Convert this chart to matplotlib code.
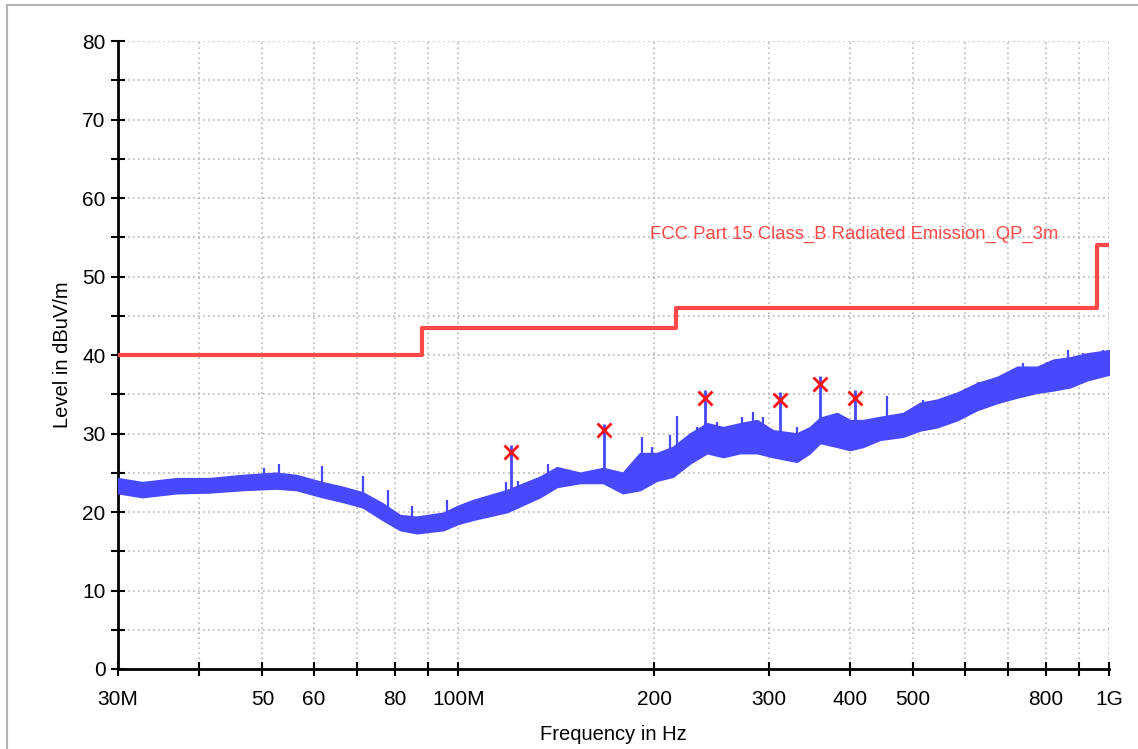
import numpy as np
import matplotlib
matplotlib.use("Agg")
import matplotlib.pyplot as plt
from matplotlib.patches import Rectangle
from matplotlib.ticker import FixedLocator, FixedFormatter, NullFormatter

# ---------------- data (MHz / dBuV/m) ----------------
env_freq = [30, 32.7, 36.9, 41.4, 46.5, 52.5, 56.4, 61.8, 66.4, 71.3, 76.5, 81.4,
            86.3, 94.9, 100, 105.2, 118.9, 133.6, 141.8, 153.9, 167, 179, 190.2,
            202, 213.8, 227.1, 241.2, 255.3, 271.1, 287.9, 304.6, 331.4, 347,
            359.8, 382.1, 400, 418.8, 444.8, 482.6, 512.5, 544.2, 584.3, 627.1,
            673.4, 722.8, 775.9, 821, 871.9, 925.9, 1000]
env_low = [22.4, 21.9, 22.4, 22.5, 22.8, 23.0, 22.8, 21.9, 21.3, 20.6, 19.0, 17.7,
           17.3, 17.7, 18.5, 19.0, 20.0, 21.9, 23.2, 23.7, 23.7, 22.4, 22.8,
           24.0, 24.5, 26.2, 27.5, 27.0, 27.5, 27.5, 27.0, 26.4, 27.5,
           28.8, 28.3, 27.9, 28.3, 29.2, 29.6, 30.4, 30.8, 31.7, 33.0,
           33.9, 34.6, 35.2, 35.5, 35.9, 36.8, 37.5]
env_high = [24.3, 23.8, 24.3, 24.3, 24.7, 25.0, 24.7, 23.8, 23.2, 22.5, 21.1, 19.6,
            19.4, 19.9, 20.8, 21.5, 22.8, 24.5, 25.7, 25.0, 25.6, 25.0, 27.5,
            27.5, 28.3, 30.0, 31.3, 30.8, 31.3, 31.7, 30.4, 30.0, 30.8,
            32.0, 32.6, 31.7, 31.7, 32.1, 32.6, 33.9, 34.3, 35.2, 36.4,
            37.2, 38.5, 38.5, 39.4, 39.7, 40.2, 40.6]

spike_freq = [50.3, 53.1, 61.8, 71.3, 78.0, 84.8, 96.2, 118.2, 123.6, 137.4,
              191.6, 198.5, 211.5, 216.9, 232.8, 249.9, 273.0, 283.9, 294.0,
              331.4, 456.0, 518.0, 554.0, 629.0, 697.0, 738.0, 803.0, 866.0,
              912.0, 980.0]
spike_top = [25.6, 26.1, 25.9, 24.6, 22.8, 20.8, 21.5, 23.8, 24.0, 26.1,
             29.6, 28.3, 29.8, 32.2, 30.8, 31.5, 32.1, 32.7, 32.1,
             30.8, 34.8, 34.3, 34.5, 36.6, 37.8, 39.0, 39.1, 40.6,
             40.2, 40.6]

peak_freq = [120.5, 167.5, 239.5, 312.3, 359.8, 407.0]
peak_trace = [28.5, 31.2, 35.5, 35.3, 37.3, 35.5]
peak_qp = [27.6, 30.4, 34.5, 34.3, 36.3, 34.5]

limit_freq = [30, 88, 216, 960, 1000]
limit_level = [40, 43.5, 46, 54, 54]
limit_name = "FCC Part 15 Class_B Radiated Emission_QP_3m"

xtick_vals = [30, 40, 50, 60, 70, 80, 90, 100, 200, 300, 400, 500, 600, 700, 800, 900, 1000]
xtick_text = ["30M", "", "50", "60", "", "80", "", "100M", "200", "300", "400", "500",
              "", "", "800", "", "1G"]

# ---------------- figure ----------------
W, H = 1138, 749
fig = plt.figure(figsize=(W / 100, H / 100), dpi=100)
fig.patch.set_facecolor("white")
fig.patches.append(Rectangle((7 / W, -0.01), 1.2, 1 - 5 / H + 0.01, transform=fig.transFigure,
                             fill=False, edgecolor="#b4b4b4", linewidth=1.5))

ax = fig.add_axes([118 / W, 1 - 669 / H, (1109 - 118) / W, (669 - 41) / H])
ax.set_xscale("log")
ax.set_xlim(30, 1000)
ax.set_ylim(0, 80)

font = ["Liberation Sans", "DejaVu Sans"]

blue = "#4848ff"
red = "#ff4848"

# trace band
ax.fill_between(env_freq, env_low, env_high, color=blue, linewidth=1.2, edgecolor=blue, zorder=3)
lf = np.log10(env_freq)
sp_base = np.interp(np.log10(spike_freq), lf, env_low)
ax.vlines(spike_freq, sp_base, spike_top, color=blue, linewidth=1.6, zorder=3)
pk_base = np.interp(np.log10(peak_freq), lf, env_low)
ax.vlines(peak_freq, pk_base, peak_trace, color=blue, linewidth=2.0, zorder=3)

# limit line
ax.step(limit_freq, limit_level, where="post", color=red, linewidth=3.0, zorder=4)
ax.text(197, 55.4, limit_name, color=red, fontsize=13.3, family=font,
        ha="left", va="center", zorder=5)

# QP markers
ax.plot(peak_freq, peak_qp, linestyle="none", marker="x", markersize=10,
        markeredgewidth=2, color="#ff1010", zorder=6)

# axes styling
for s in ["top", "right"]:
    ax.spines[s].set_visible(False)
for s in ["left", "bottom"]:
    ax.spines[s].set_linewidth(2)
    ax.spines[s].set_color("black")

ax.xaxis.set_major_locator(FixedLocator(xtick_vals))
ax.xaxis.set_major_formatter(FixedFormatter(xtick_text))
ax.xaxis.set_minor_locator(FixedLocator([]))
ax.xaxis.set_minor_formatter(NullFormatter())
ax.set_yticks(np.arange(0, 81, 10))
ax.set_yticks(np.arange(5, 80, 10), minor=True)

ax.tick_params(axis="both", which="both", direction="inout", length=10, width=1.5,
               color="black", labelsize=15)
ax.tick_params(axis="x", pad=10)
ax.tick_params(axis="y", pad=4)
for lab in ax.get_xticklabels() + ax.get_yticklabels():
    lab.set_family(font)

grid_kw = dict(color="#b8b8b8", linestyle=(0, (1, 2)), linewidth=1.2, zorder=1)
for xv in xtick_vals[1:]:
    ax.axvline(xv, **grid_kw)
for yv in range(5, 81, 5):
    ax.axhline(yv, **grid_kw)

ax.set_xlabel("Frequency in Hz", fontsize=14.5, family=font, labelpad=12)
ax.set_ylabel("Level in dBuV/m", fontsize=14.5, family=font, labelpad=7)

fig.savefig("out.png", dpi=100)
